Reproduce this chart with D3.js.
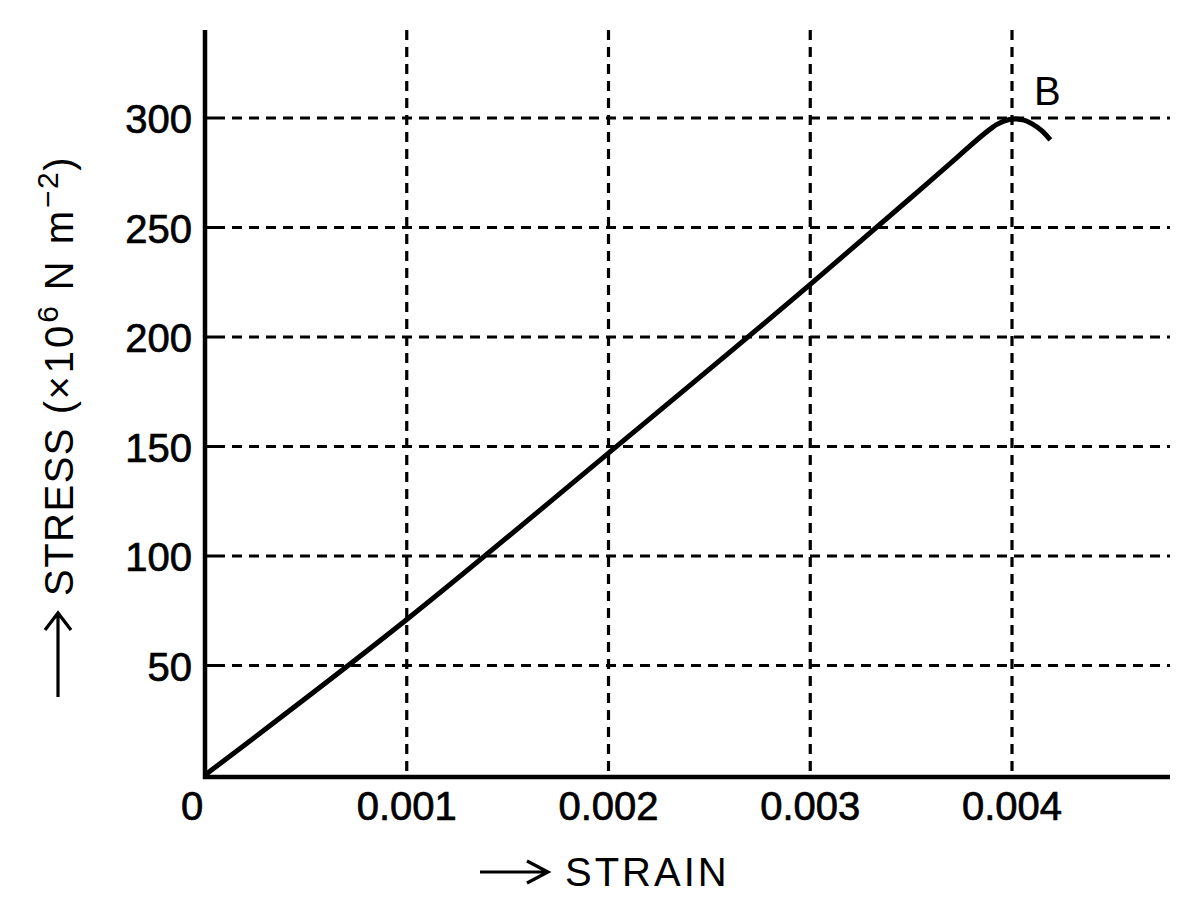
<!DOCTYPE html>
<html>
<head>
<meta charset="utf-8">
<script src="https://cdn.jsdelivr.net/npm/d3@7"></script>
<style>
  html, body { margin: 0; padding: 0; background: #fff; }
  svg { display: block; }
  text { font-family: "Liberation Sans", Arial, sans-serif; fill: #000; }
</style>
</head>
<body>
<svg id="chart" width="1200" height="917"></svg>
<script>
// ---- data ----
const strain = [0, 0.001, 0.002, 0.003, 0.0035, 0.0037, 0.0039, 0.00392, 0.00396, 0.00401, 0.00406, 0.0041, 0.00415, 0.00419];
const stress = [0, 71, 147, 224, 263.7, 279.7, 295.5, 296.8, 298.6, 299.6, 299, 297.3, 294, 290];
const xTicks = [0, 0.001, 0.002, 0.003, 0.004];
const xTickLabels = ["0", "0.001", "0.002", "0.003", "0.004"];
const yTicks = [50, 100, 150, 200, 250, 300];
const yTickLabels = ["50", "100", "150", "200", "250", "300"];
const pointLabel = "B";

// ---- scales ----
const x = d3.scaleLinear().domain([0, 0.004]).range([205, 1012]);
const y = d3.scaleLinear().domain([0, 300]).range([775, 118]);
const xMax = x.invert(1170);
const yMax = y.invert(30);

const svg = d3.select("#chart");

// grid lines
svg.append("g").selectAll("line")
  .data(xTicks.filter(d => d > 0))
  .join("line")
  .attr("x1", d => x(d)).attr("x2", d => x(d))
  .attr("y1", y(yMax)).attr("y2", y(0))
  .attr("stroke", "#000").attr("stroke-width", 3.2)
  .attr("stroke-dasharray", "10,7");

const hDash = ["20,7"].concat(d3.range(70).map(() => "10,7")).join(",");
svg.append("g").selectAll("line")
  .data(yTicks)
  .join("line")
  .attr("x1", x(0)).attr("x2", x(xMax))
  .attr("y1", d => y(d)).attr("y2", d => y(d))
  .attr("stroke", "#000").attr("stroke-width", 3.2)
  .attr("stroke-dasharray", hDash);

// axes
svg.append("line")
  .attr("x1", x(0)).attr("x2", x(0))
  .attr("y1", y(yMax)).attr("y2", y(0) + 4)
  .attr("stroke", "#000").attr("stroke-width", 4.5);
svg.append("line")
  .attr("x1", x(0) - 2).attr("x2", x(xMax))
  .attr("y1", y(0) + 2).attr("y2", y(0) + 2)
  .attr("stroke", "#000").attr("stroke-width", 4.5);

// tick labels
svg.append("g").selectAll("text")
  .data(xTicks)
  .join("text")
  .attr("x", (d, i) => i === 0 ? x(d) - 13 : x(d))
  .attr("y", 820)
  .attr("text-anchor", "middle")
  .attr("font-size", 40)
  .attr("stroke", "#000").attr("stroke-width", 0.7)
  .text((d, i) => xTickLabels[i]);

svg.append("g").selectAll("text")
  .data(yTicks)
  .join("text")
  .attr("x", 192)
  .attr("y", d => y(d) + 15)
  .attr("text-anchor", "end")
  .attr("font-size", 40)
  .attr("stroke", "#000").attr("stroke-width", 0.7)
  .text((d, i) => yTickLabels[i]);

// curve
const pts = strain.map((s, i) => [s, stress[i]]);
svg.append("path")
  .datum(pts)
  .attr("fill", "none")
  .attr("stroke", "#000")
  .attr("stroke-width", 5)
  .attr("stroke-linecap", "butt")
  .attr("stroke-linejoin", "round")
  .attr("d", d3.line().x(d => x(d[0])).y(d => y(d[1])).curve(d3.curveMonotoneX));

// point label
svg.append("text")
  .attr("x", 1034).attr("y", 105)
  .attr("font-size", 40)
  .text(pointLabel);

// x title with arrow
svg.append("path")
  .attr("d", "M480,872 L547,872 M527,861 L548,872 L527,883")
  .attr("fill", "none").attr("stroke", "#000").attr("stroke-width", 3.2)
  .attr("stroke-linejoin", "miter");
svg.append("text")
  .attr("x", 565).attr("y", 886)
  .attr("font-size", 40)
  .attr("letter-spacing", 3)
  .text("STRAIN");

// y title with arrow
svg.append("path")
  .attr("d", "M58,697 L58,614 M45,630 L58,613 L71,630")
  .attr("fill", "none").attr("stroke", "#000").attr("stroke-width", 3.2);
const yt = svg.append("text")
  .attr("transform", "translate(73,596) rotate(-90)")
  .attr("font-size", 40)
  .attr("letter-spacing", 1.5);
yt.append("tspan").text("STRESS (");
yt.append("tspan").attr("letter-spacing", 3).text("×10");
yt.append("tspan").attr("font-size", 30).attr("dy", -15).text("6");
yt.append("tspan").attr("dy", 15).attr("letter-spacing", 3).text(" N m");
yt.append("tspan").attr("font-size", 30).attr("dy", -15).text("−2");
yt.append("tspan").attr("dy", 15).text(")");
</script>
</body>
</html>
